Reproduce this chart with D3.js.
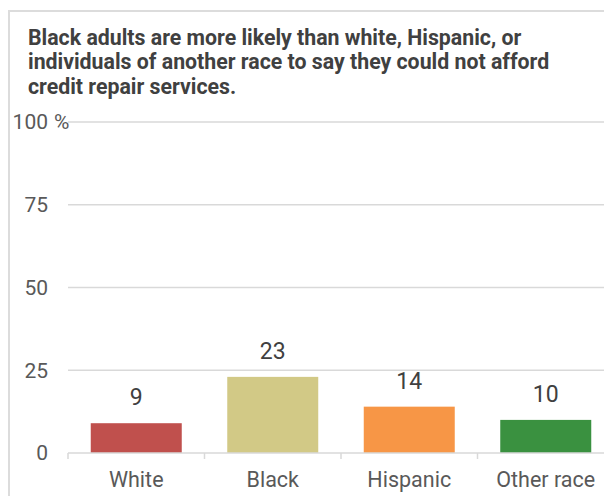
<!DOCTYPE html>
<html>
<head>
<meta charset="utf-8">
<script src="https://cdn.jsdelivr.net/npm/d3@7/dist/d3.min.js"></script>
<style>
  html, body { margin: 0; padding: 0; background: #fff; }
  svg { display: block; font-family: Roboto, "Noto Sans", sans-serif; }
</style>
</head>
<body>
<svg id="chart" width="604" height="496"></svg>
<script>
// Share of adults who could not afford credit repair services, by race
const categories = ["White", "Black", "Hispanic", "Other race"];
const values = [9, 23, 14, 10];
const barColors = ["#c0504d", "#d2c986", "#f79646", "#3a9140"];
const yTicks = [0, 25, 50, 75, 100];
const titleLines = [
  "Black adults are more likely than white, Hispanic, or",
  "individuals of another race to say they could not afford",
  "credit repair services."
];

const svg = d3.select("#chart");
const W = 604, H = 496;

// Frame around the chart panel
svg.append("path")
  .attr("d", `M9,${H} V11 H${W}`)
  .attr("fill", "none")
  .attr("stroke", "#dcdcdc")
  .attr("stroke-width", 2);

// Title
const title = svg.append("text")
  .attr("x", 28)
  .attr("y", 44.5)
  .attr("font-size", 21.3)
  .attr("font-weight", "bold")
  .attr("fill", "#404040");
title.selectAll("tspan")
  .data(titleLines)
  .join("tspan")
  .attr("x", 28)
  .attr("dy", (d, i) => i === 0 ? 0 : 24.5)
  .text(d => d);

const x0 = 68;
const x = d3.scaleBand()
  .domain(categories)
  .range([x0, x0 + 136.5 * categories.length])
  .paddingInner(1 / 3)
  .paddingOuter(1 / 6);

const y = d3.scaleLinear()
  .domain([0, 100])
  .range([453, 122]);

// Horizontal gridlines
svg.append("g")
  .selectAll("line")
  .data(yTicks.filter(t => t !== 0))
  .join("line")
  .attr("x1", x0)
  .attr("x2", W)
  .attr("y1", d => y(d))
  .attr("y2", d => y(d))
  .attr("stroke", "#d9d9d9")
  .attr("stroke-width", 1.5);

// Y tick labels
const yLabels = svg.append("g")
  .attr("font-size", 21)
  .attr("fill", "#595959");
yLabels.selectAll("text")
  .data(yTicks)
  .join("text")
  .attr("x", 48)
  .attr("y", d => y(d))
  .attr("dy", "0.35em")
  .attr("text-anchor", "end")
  .text(d => d);
yLabels.append("text")
  .attr("x", 54)
  .attr("y", y(100))
  .attr("dy", "0.35em")
  .text("%");

// Bars
svg.append("g")
  .selectAll("rect")
  .data(categories)
  .join("rect")
  .attr("x", d => x(d))
  .attr("width", x.bandwidth())
  .attr("y", (d, i) => y(values[i]))
  .attr("height", (d, i) => y(0) - y(values[i]))
  .attr("fill", (d, i) => barColors[i]);

// Value labels
svg.append("g")
  .attr("font-size", 23)
  .attr("fill", "#404040")
  .attr("text-anchor", "middle")
  .selectAll("text")
  .data(categories)
  .join("text")
  .attr("x", d => x(d) + x.bandwidth() / 2)
  .attr("y", (d, i) => y(values[i]) - 18)
  .text((d, i) => values[i]);

// X axis
const xAxis = d3.axisBottom(x).tickSize(0).tickPadding(19);
const gx = svg.append("g")
  .attr("transform", `translate(0,${y(0)})`)
  .call(xAxis);
gx.select(".domain").remove();
gx.selectAll("text")
  .attr("font-size", 21.5)
  .attr("font-family", "Roboto, sans-serif")
  .attr("fill", "#595959");

svg.append("line")
  .attr("x1", x0).attr("x2", W)
  .attr("y1", y(0)).attr("y2", y(0))
  .attr("stroke", "#d9d9d9")
  .attr("stroke-width", 1.5);

// Category separator ticks
svg.append("g")
  .selectAll("line")
  .data(categories)
  .join("line")
  .attr("x1", d => x(d) - x.step() * x.paddingOuter())
  .attr("x2", d => x(d) - x.step() * x.paddingOuter())
  .attr("y1", y(0))
  .attr("y2", y(0) + 6)
  .attr("stroke", "#d9d9d9")
  .attr("stroke-width", 1.5);
</script>
</body>
</html>
